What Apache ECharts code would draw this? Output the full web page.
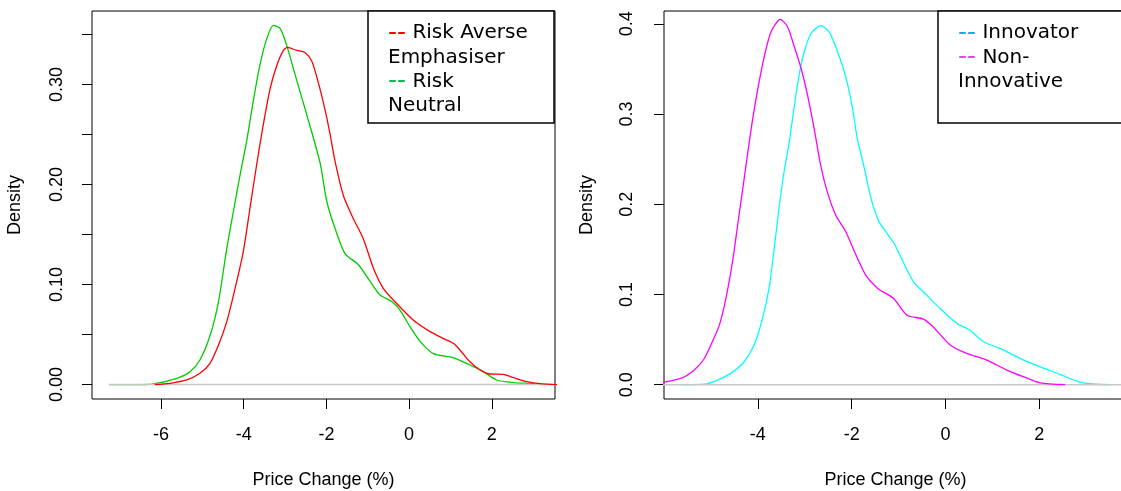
<!DOCTYPE html>
<html>
<head>
<meta charset="utf-8">
<script src="https://cdn.jsdelivr.net/npm/echarts@6/dist/echarts.min.js"></script>
<style>
html,body{margin:0;padding:0;background:#fff;}
#chart{width:1121px;height:491px;}
</style>
</head>
<body>
<div id="chart"></div>
<script>
// ---- Left panel: Risk Averse Emphasiser vs Risk Neutral ----
const riskNeutralX = [-7.26, -6.6, -6.22, -5.62, -5.30, -5.06, -4.81, -4.61, -4.41, -4.25, -4.09, -3.93, -3.77, -3.61, -3.44, -3.28, -3.12, -2.96, -2.80, -2.64, -2.40, -2.15, -1.99, -1.79, -1.55, -1.23, -0.94, -0.70, -0.42, -0.22, 0.02, 0.27, 0.59, 1.07, 1.47, 1.80, 2.12, 2.53, 3.01, 3.11];
const riskNeutralY = [0, 0, 0.0005, 0.0063, 0.0129, 0.0246, 0.0496, 0.083, 0.136, 0.173, 0.209, 0.243, 0.283, 0.319, 0.346, 0.359, 0.356, 0.339, 0.316, 0.293, 0.259, 0.221, 0.183, 0.156, 0.131, 0.120, 0.103, 0.0895, 0.083, 0.0745, 0.058, 0.043, 0.031, 0.027, 0.0196, 0.0129, 0.0046, 0.002, 0.0009, 0];

const riskAverseX = [-6.15, -5.78, -5.38, -5.06, -4.82, -4.61, -4.41, -4.21, -4.01, -3.85, -3.69, -3.53, -3.36, -3.20, -3.04, -2.94, -2.72, -2.52, -2.35, -2.19, -2.03, -1.91, -1.79, -1.59, -1.35, -1.11, -0.86, -0.62, -0.30, 0.10, 0.51, 0.83, 1.07, 1.23, 1.47, 1.72, 1.96, 2.28, 2.53, 2.85, 3.17, 3.6];
const riskAverseY = [0, 0.0013, 0.0046, 0.0113, 0.021, 0.0396, 0.063, 0.096, 0.133, 0.176, 0.219, 0.259, 0.296, 0.319, 0.334, 0.337, 0.334, 0.332, 0.323, 0.301, 0.274, 0.250, 0.223, 0.189, 0.166, 0.146, 0.116, 0.096, 0.081, 0.0646, 0.0529, 0.046, 0.0413, 0.0346, 0.0229, 0.0146, 0.0106, 0.0103, 0.0069, 0.0029, 0.0009, 0];

// ---- Right panel: Innovator vs Non-Innovative ----
const innovatorX = [-5.61, -5.14, -4.86, -4.58, -4.29, -4.08, -3.90, -3.76, -3.65, -3.55, -3.44, -3.33, -3.23, -3.12, -3.01, -2.87, -2.66, -2.48, -2.30, -2.12, -1.98, -1.88, -1.73, -1.59, -1.42, -1.25, -1.10, -0.90, -0.68, -0.40, -0.12, 0.24, 0.52, 0.81, 1.16, 1.59, 2.02, 2.44, 2.80, 3.08, 3.51];
const innovatorY = [0, 0.0005, 0.005, 0.0125, 0.0254, 0.0439, 0.0735, 0.107, 0.151, 0.195, 0.236, 0.269, 0.306, 0.343, 0.369, 0.389, 0.398, 0.391, 0.369, 0.340, 0.306, 0.273, 0.240, 0.207, 0.181, 0.168, 0.157, 0.136, 0.114, 0.0993, 0.0846, 0.068, 0.0605, 0.0476, 0.0402, 0.0292, 0.0198, 0.0114, 0.004, 0.001, 0];

const nonInnovX = [-6.1, -5.64, -5.36, -5.14, -4.97, -4.82, -4.68, -4.54, -4.43, -4.33, -4.22, -4.12, -4.01, -3.87, -3.72, -3.52, -3.37, -3.23, -3.08, -2.94, -2.80, -2.66, -2.52, -2.34, -2.13, -1.91, -1.70, -1.45, -1.11, -0.82, -0.47, -0.26, 0.10, 0.45, 0.88, 1.31, 1.66, 2.02, 2.55];
const nonInnovY = [0.002, 0.007, 0.016, 0.029, 0.0476, 0.066, 0.0957, 0.136, 0.177, 0.214, 0.255, 0.291, 0.325, 0.362, 0.391, 0.405, 0.397, 0.376, 0.351, 0.321, 0.284, 0.243, 0.214, 0.188, 0.170, 0.144, 0.1215, 0.107, 0.0957, 0.077, 0.0727, 0.064, 0.044, 0.0347, 0.0273, 0.0162, 0.0088, 0.002, 0];

// zero reference lines
const zeroLineLeftX = [-7.26, 3.7];
const zeroLineRightX = [-6.5, 4.5];

// ticks
const xTicksLeft = [-6, -4, -2, 0, 2];
const xTicksRight = [-4, -2, 0, 2];
const yTicksLeft = [0, 0.05, 0.10, 0.15, 0.20, 0.25, 0.30, 0.35];
const yLabelsLeft = [0, 0.10, 0.20, 0.30];
const yTicksRight = [0, 0.1, 0.2, 0.3, 0.4];

const xTitle = 'Price Change (%)';
const yTitle = 'Density';

const pairs = (xs, ys) => xs.map((x, i) => [x, ys[i]]);

const axFont = 'Liberation Sans';
const tickStyle = {color: '#000', width: 1};
const FS = 18;

function xAxisDef(gi, min, max, ticks) {
  return {
    gridIndex: gi, type: 'value', min: min, max: max,
    axisLine: {show: false, onZero: false}, splitLine: {show: false},
    axisTick: {show: true, length: 10, lineStyle: tickStyle, customValues: ticks},
    axisLabel: {customValues: ticks, fontSize: FS, color: '#000', margin: 27, fontFamily: axFont},
    name: xTitle, nameLocation: 'middle', nameGap: 72,
    nameTextStyle: {fontSize: FS, color: '#000', fontFamily: axFont}
  };
}
function yAxisDef(gi, min, max, ticks, labels, digits, margin) {
  return {
    gridIndex: gi, type: 'value', min: min, max: max,
    axisLine: {show: false, onZero: false}, splitLine: {show: false},
    axisTick: {show: true, length: 10, lineStyle: tickStyle, customValues: ticks},
    axisLabel: {customValues: labels, rotate: 90, fontSize: FS, color: '#000', margin: margin,
      fontFamily: axFont, formatter: v => Number(v).toFixed(digits)},
    name: yTitle, nameLocation: 'middle', nameGap: 68,
    nameTextStyle: {fontSize: FS, color: '#000', fontFamily: axFont}
  };
}
function lineSeries(xi, data, color, width, smooth) {
  return {
    type: 'line', xAxisIndex: xi, yAxisIndex: xi, data: data, showSymbol: false, symbol: 'none',
    smooth: smooth, clip: true, silent: true,
    lineStyle: {color: color, width: width}
  };
}

const chart = echarts.init(document.getElementById('chart'), null, {renderer: 'canvas'});
const legendFont = 'DejaVu Sans';
function legendRich(c1, c2) {
  const base = {fontSize: 20, fontFamily: legendFont, lineHeight: 24.3, fill: '#000'};
  return {
    a: Object.assign({}, base, {fontSize: 25, fill: c1}),
    b: Object.assign({}, base, {fontSize: 25, fill: c2}),
    t: base
  };
}

chart.setOption({
  animation: false,
  backgroundColor: '#fff',
  grid: [
    {left: 92, top: 11, width: 463, height: 388, containLabel: false, outerBoundsMode: 'none',
     show: true, borderColor: '#000', borderWidth: 1, backgroundColor: 'transparent'},
    {left: 664, top: 11, width: 463, height: 388, containLabel: false, outerBoundsMode: 'none',
     show: true, borderColor: '#000', borderWidth: 1, backgroundColor: 'transparent'}
  ],
  xAxis: [
    xAxisDef(0, -7.67, 3.53, xTicksLeft),
    xAxisDef(1, -6.0, 3.87, xTicksRight)
  ],
  yAxis: [
    yAxisDef(0, -0.0144, 0.3734, yTicksLeft, yLabelsLeft, 2, 26),
    yAxisDef(1, -0.0159, 0.4142, yTicksRight, yTicksRight, 1, 28)
  ],
  series: [
    lineSeries(0, pairs(riskNeutralX, riskNeutralY), '#00cd00', 1.3, 0.25),
    lineSeries(0, pairs(zeroLineLeftX, [0, 0]), '#c8c8c8', 1.5, false),
    lineSeries(0, pairs(riskAverseX, riskAverseY), '#ff0000', 1.3, 0.25),
    lineSeries(1, pairs(innovatorX, innovatorY), '#00ffff', 1.3, 0.25),
    lineSeries(1, pairs(zeroLineRightX, [0, 0]), '#c8c8c8', 1.5, false),
    lineSeries(1, pairs(nonInnovX, nonInnovY), '#ff00ff', 1.3, 0.25)
  ],
  graphic: [
    {type: 'rect', z: 100, shape: {x: 368, y: 11, width: 186, height: 112},
     style: {fill: '#fff', stroke: '#000', lineWidth: 1.5}},
    {type: 'text', z: 101, x: 388, y: 21,
     style: {text: '{a|--}{t| Risk Averse}\n{t|Emphasiser}\n{b|--}{t| Risk}\n{t|Neutral}',
       rich: legendRich('#ff0000', '#00c050'), fontSize: 20, fontFamily: legendFont, lineHeight: 24.3, fill: '#000'}},
    {type: 'rect', z: 100, shape: {x: 938, y: 11, width: 200, height: 112},
     style: {fill: '#fff', stroke: '#000', lineWidth: 1.5}},
    {type: 'text', z: 101, x: 958, y: 21,
     style: {text: '{a|--}{t| Innovator}\n{b|--}{t| Non-}\n{t|Innovative}',
       rich: legendRich('#10b0f0', '#f040f0'), fontSize: 20, fontFamily: legendFont, lineHeight: 24.3, fill: '#000'}}
  ]
});
</script>
</body>
</html>
